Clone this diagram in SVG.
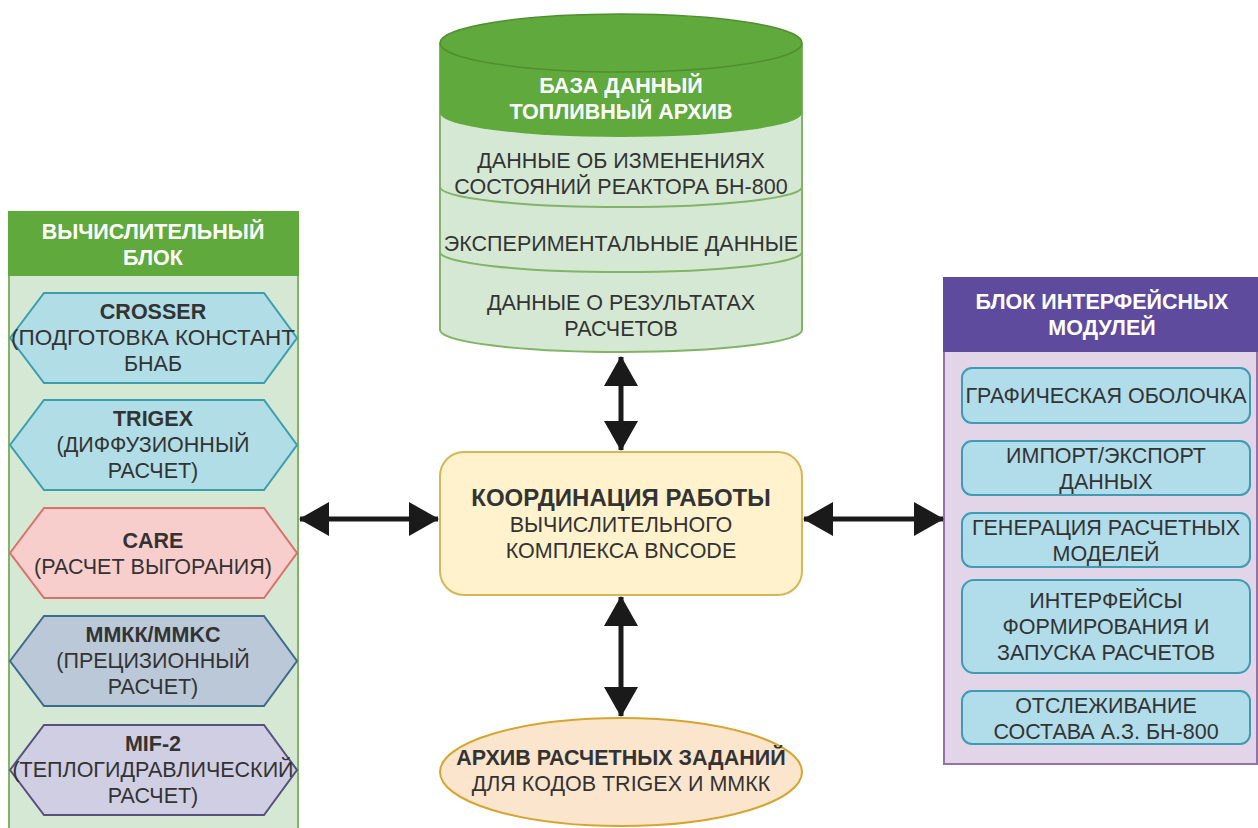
<svg xmlns="http://www.w3.org/2000/svg" width="1258" height="828" viewBox="0 0 1258 828">
<style>
text{font-family:"Liberation Sans",Arial,sans-serif;fill:#333;text-anchor:middle;font-size:21.5px}
.b{font-weight:bold}
.w{fill:#fff;font-weight:bold}
.conn{stroke:#1a1a1a;stroke-width:5;fill:none}
.ib{fill:#b1dce9;stroke:#3e9bb3;stroke-width:2}
</style>
<defs>
<marker id="ah" viewBox="0 0 30 34" refX="29" refY="17" markerWidth="30" markerHeight="34" markerUnits="userSpaceOnUse" orient="auto-start-reverse">
<path d="M0,0 L30,17 L0,34 Z" fill="#1a1a1a"/>
</marker>
</defs>

<g id="compute-block">
<rect x="9" y="212" width="289" height="630" fill="#d5e8d4" stroke="#82b366" stroke-width="2"/>
<rect x="9" y="212" width="289" height="63" fill="#60a93c" stroke="#60a93c" stroke-width="2"/>
<text class="w" x="153" y="239">ВЫЧИСЛИТЕЛЬНЫЙ</text>
<text class="w" x="153" y="265">БЛОК</text>
</g>

<g id="crosser">
<polygon points="10,338 44,293 264,293 297,338 264,383 44,383" fill="#b0dde6" stroke="#3a9fad" stroke-width="2"/>
<text class="b" x="153" y="319">CROSSER</text>
<text x="153" y="345" style="font-size:22.5px">(ПОДГОТОВКА КОНСТАНТ</text>
<text x="153" y="371">БНАБ</text>
</g>
<g id="trigex">
<polygon points="10,445 44,400 264,400 297,445 264,490 44,490" fill="#b0dde6" stroke="#3a9fad" stroke-width="2"/>
<text class="b" x="153" y="426">TRIGEX</text>
<text x="153" y="452">(ДИФФУЗИОННЫЙ</text>
<text x="153" y="478">РАСЧЕТ)</text>
</g>
<g id="care">
<polygon points="10,553 44,508 264,508 297,553 264,598 44,598" fill="#f8cecc" stroke="#d9706a" stroke-width="2"/>
<text class="b" x="153" y="548">CARE</text>
<text x="153" y="574">(РАСЧЕТ ВЫГОРАНИЯ)</text>
</g>
<g id="mmkk">
<polygon points="10,661 44,616 264,616 297,661 264,706 44,706" fill="#bac8d8" stroke="#3d6b8c" stroke-width="2"/>
<text class="b" x="153" y="642">ММКК/MMKC</text>
<text x="153" y="668">(ПРЕЦИЗИОННЫЙ</text>
<text x="153" y="694">РАСЧЕТ)</text>
</g>
<g id="mif2">
<polygon points="10,770 44,725 264,725 297,770 264,815 44,815" fill="#d0cee2" stroke="#56517e" stroke-width="2"/>
<text class="b" x="153" y="751">MIF-2</text>
<text x="153" y="777">(ТЕПЛОГИДРАВЛИЧЕСКИЙ</text>
<text x="153" y="803">РАСЧЕТ)</text>
</g>

<g id="database">
<path d="M440,43 L440,330 A181,22 0 0 0 802,330 L802,43" fill="#d5e8d4" stroke="#82b366" stroke-width="2"/>
<path d="M440,43 L440,113 A181,24 0 0 0 802,113 L802,43 Z" fill="#60a93c"/>
<ellipse cx="621" cy="43" rx="181" ry="29" fill="#60a93c" stroke="#4f8f30" stroke-width="1.5"/>
<path d="M440,187 A181,20 0 0 0 802,187" fill="none" stroke="#82b366" stroke-width="2"/>
<path d="M440,252 A181,20 0 0 0 802,252" fill="none" stroke="#82b366" stroke-width="2"/>
<text class="w" x="621" y="93">БАЗА ДАННЫЙ</text>
<text class="w" x="621" y="119">ТОПЛИВНЫЙ АРХИВ</text>
<text x="621" y="168">ДАННЫЕ ОБ ИЗМЕНЕНИЯХ</text>
<text x="621" y="194">СОСТОЯНИЙ РЕАКТОРА БН-800</text>
<text x="621" y="251">ЭКСПЕРИМЕНТАЛЬНЫЕ ДАННЫЕ</text>
<text x="621" y="310">ДАННЫЕ О РЕЗУЛЬТАТАХ</text>
<text x="621" y="336">РАСЧЕТОВ</text>
</g>

<g id="coordination">
<rect x="440" y="452" width="362" height="143" rx="24" fill="#fff2cc" stroke="#d6b656" stroke-width="2"/>
<text class="b" x="621" y="506" style="font-size:24px">КООРДИНАЦИЯ РАБОТЫ</text>
<text x="621" y="532">ВЫЧИСЛИТЕЛЬНОГО</text>
<text x="621" y="558">КОМПЛЕКСА BNCODE</text>
</g>

<g id="archive">
<ellipse cx="621" cy="772" rx="181" ry="54" fill="#fce5cd" stroke="#d6a530" stroke-width="2"/>
<text class="b" x="621" y="765">АРХИВ РАСЧЕТНЫХ ЗАДАНИЙ</text>
<text x="621" y="791">ДЛЯ КОДОВ TRIGEX И ММКК</text>
</g>

<g id="interface-block">
<rect x="944" y="278" width="313" height="486" fill="#e1d5e7" stroke="#9673a6" stroke-width="2"/>
<rect x="944" y="278" width="313" height="73" fill="#5e4b9e" stroke="#5e4b9e" stroke-width="2"/>
<text class="w" x="1102" y="309">БЛОК ИНТЕРФЕЙСНЫХ</text>
<text class="w" x="1102" y="335">МОДУЛЕЙ</text>
</g>
<g id="gui">
<rect class="ib" x="962" y="368" width="288" height="55" rx="10"/>
<text x="1106" y="403">ГРАФИЧЕСКАЯ ОБОЛОЧКА</text>
</g>
<g id="import-export">
<rect class="ib" x="962" y="441" width="288" height="54" rx="10"/>
<text x="1106" y="463">ИМПОРТ/ЭКСПОРТ</text>
<text x="1106" y="489">ДАННЫХ</text>
</g>
<g id="generation">
<rect class="ib" x="962" y="513" width="288" height="54" rx="10"/>
<text x="1106" y="535">ГЕНЕРАЦИЯ РАСЧЕТНЫХ</text>
<text x="1106" y="561">МОДЕЛЕЙ</text>
</g>
<g id="launch">
<rect class="ib" x="962" y="580" width="288" height="93" rx="12"/>
<text x="1106" y="608">ИНТЕРФЕЙСЫ</text>
<text x="1106" y="634">ФОРМИРОВАНИЯ И</text>
<text x="1106" y="660">ЗАПУСКА РАСЧЕТОВ</text>
</g>
<g id="tracking">
<rect class="ib" x="962" y="691" width="288" height="53" rx="10"/>
<text x="1106" y="713">ОТСЛЕЖИВАНИЕ</text>
<text x="1106" y="739">СОСТАВА А.З. БН-800</text>
</g>

<g id="connectors">
<line class="conn" x1="300" y1="519" x2="438" y2="519" marker-start="url(#ah)" marker-end="url(#ah)"/>
<line class="conn" x1="804" y1="519" x2="943" y2="519" marker-start="url(#ah)" marker-end="url(#ah)"/>
<line class="conn" x1="621" y1="357" x2="621" y2="450" marker-start="url(#ah)" marker-end="url(#ah)"/>
<line class="conn" x1="621" y1="597" x2="621" y2="716" marker-start="url(#ah)" marker-end="url(#ah)"/>
</g>
</svg>
